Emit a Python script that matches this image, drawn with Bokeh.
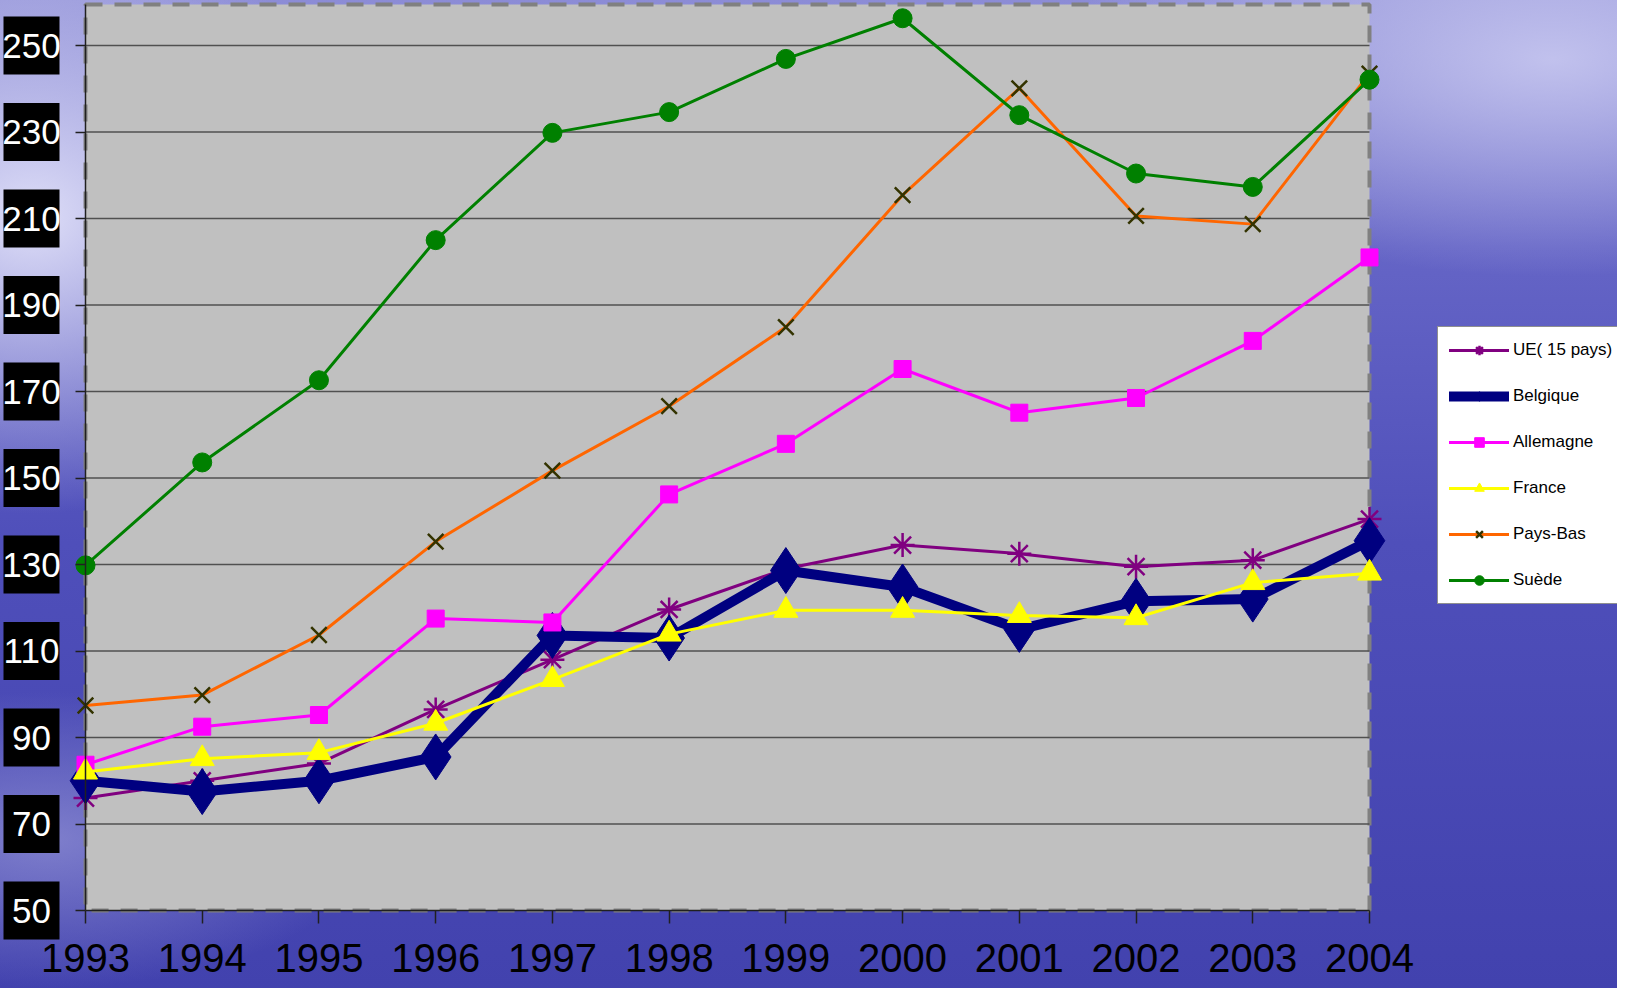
from bokeh.plotting import figure
from bokeh.models import Range1d, FixedTicker, Legend, LegendItem, LabelSet, ColumnDataSource
from bokeh.core.properties import value
from bokeh.embed import file_html
from bokeh.resources import INLINE

years = [1993, 1994, 1995, 1996, 1997, 1998, 1999, 2000, 2001, 2002, 2003, 2004]
ue = [76, 80, 84, 96.5, 108, 119.6, 129, 134.5, 132.5, 129.5, 131, 140.5]
belgique = [80, 77.5, 80, 85.5, 113.6, 113, 128.6, 124.8, 115, 121.5, 122, 135.5]
allemagne = [83.7, 92.5, 95.2, 117.5, 116.6, 146.2, 157.9, 175.2, 165.1, 168.5, 181.7, 201]
france = [82, 85.1, 86.5, 93.3, 103.4, 113.9, 119.4, 119.4, 118.2, 117.7, 125.8, 128]
pays_bas = [97.4, 99.8, 113.7, 135.3, 151.7, 166.6, 184.9, 215.4, 240.1, 210.6, 208.7, 243.5]
suede = [129.8, 153.6, 172.6, 205, 229.8, 234.6, 246.9, 256.3, 233.9, 220.4, 217.3, 242.1]
y_ticks = [50, 70, 90, 110, 130, 150, 170, 190, 210, 230, 250]
y_tick_labels = [str(t) for t in y_ticks]
y_top = 259.5

FONT = "'Liberation Sans Narrow', 'Arial Narrow', 'Liberation Sans', Arial, sans-serif"

# layout (pixels): plot area 1284 wide, 865 px per 200 units; extra room for labels and legend
PX_PER_YEAR = 1284 / 11
PX_PER_UNIT = 865 / 200
LEFT_PAD, RIGHT_PAD = 85, 248
TOP_PAD, BOTTOM_PAD = 910, 78   # pixels above / below the value 50
FRAME_W, FRAME_H = 1617, 988
LABEL_BOX_OFFSET = 54           # px from the y axis to the centre of the tick-label boxes

p = figure(output_backend="svg", toolbar_location=None,
           frame_width=FRAME_W, frame_height=FRAME_H,
           min_border_left=0, min_border_right=0, min_border_top=0, min_border_bottom=0,
           x_range=Range1d(years[0] - LEFT_PAD / PX_PER_YEAR, years[-1] + RIGHT_PAD / PX_PER_YEAR),
           y_range=Range1d(y_ticks[0] - BOTTOM_PAD / PX_PER_UNIT, y_ticks[0] + TOP_PAD / PX_PER_UNIT))

p.border_fill_color = None
p.background_fill_color = None
p.outline_line_color = None
p.styles = {"background": (
    "radial-gradient(ellipse 22% 30% at 2% 22%, rgba(228,228,250,0.95), rgba(228,228,250,0) 100%),"
    "radial-gradient(ellipse 30% 22% at 96% 6%, rgba(200,200,240,0.9), rgba(200,200,240,0) 100%),"
    "radial-gradient(ellipse 20% 15% at 3% 85%, rgba(150,150,215,0.7), rgba(150,150,215,0) 100%),"
    "linear-gradient(180deg, #8c8cd6 0%, #6565c6 25%, #4f4fba 55%, #4242ae 100%)")}

# plot area background with dashed outline
p.quad(left=years[0], right=years[-1], bottom=y_ticks[0], top=y_top,
       fill_color="#c0c0c0", line_color="#808080", line_width=4, line_dash="17 12", level="image")

# horizontal grid lines limited to the plot area
p.xgrid.visible = False
p.ygrid.visible = False
p.segment(x0=[years[0]] * (len(y_ticks) - 1), x1=[years[-1]] * (len(y_ticks) - 1),
          y0=y_ticks[1:], y1=y_ticks[1:], line_color="#505050", line_width=1.5, level="underlay")

p.xaxis.ticker = FixedTicker(ticks=years)
p.xaxis.bounds = (years[0], years[-1])
p.xaxis.fixed_location = y_ticks[0]
p.yaxis.ticker = FixedTicker(ticks=y_ticks)
p.yaxis.bounds = (y_ticks[0], y_top)
p.yaxis.fixed_location = years[0]
for ax in (p.xaxis[0], p.yaxis[0]):
    ax.axis_line_color = "#202020"
    ax.axis_line_width = 1.5
    ax.major_tick_line_color = "#202020"
    ax.major_tick_line_width = 1.5
    ax.minor_tick_line_color = None
    ax.major_tick_in = 0
    ax.major_label_text_font = FONT

p.xaxis.major_tick_out = 13
p.xaxis.major_label_standoff = 20
p.xaxis.major_label_text_font_size = "40px"
p.xaxis.major_label_text_color = "black"

p.yaxis.major_tick_out = 10
p.yaxis.major_label_text_color = None
p.yaxis.major_label_text_font_size = "1px"

# y tick labels: white text on black boxes
box_x = [years[0] - LABEL_BOX_OFFSET / PX_PER_YEAR] * len(y_ticks)
p.rect(x=box_x, y=y_ticks, width=56, height=58, width_units="screen", height_units="screen",
       fill_color="black", line_color=None)
ylab_src = ColumnDataSource(data=dict(x=box_x, y=y_ticks, text=y_tick_labels))
p.add_layout(LabelSet(x="x", y="y", text="text", source=ylab_src,
                      text_align="center", text_baseline="middle",
                      text_font=value(FONT), text_font_size="35px", text_color="white"))

series = [
    ("UE( 15 pays)", ue, "#800080", 3, "asterisk", 24, "#800080", "#800080"),
    ("Belgique", belgique, "#000080", 10, "diamond", 46, "#000080", "#000080"),
    ("Allemagne", allemagne, "#ff00ff", 3, "square", 17, "#ff00ff", "#ff00ff"),
    ("France", france, "#ffff00", 3, "triangle", 24, "#ffff00", "#ffff00"),
    ("Pays-Bas", pays_bas, "#ff6600", 3, "x", 22, "#333300", None),
    ("Suède", suede, "#008000", 3, "circle", 19, "#008000", "#008000"),
]

items = []
for name, vals, col, lw, marker, size, mline, mfill in series:
    lr = p.line(years, vals, line_color=col, line_width=lw, line_join="round", line_cap="round")
    sr = p.scatter(years, vals, marker=marker, size=size, line_color=mline,
                   fill_color=mfill, line_width=2.5 if marker in ("x", "asterisk") else 1)
    items.append(LegendItem(label=name, renderers=[lr, sr]))

legend = Legend(items=items, location=(1437, 306 + BOTTOM_PAD))
legend.background_fill_color = "white"
legend.background_fill_alpha = 1
legend.border_line_color = "#202020"
legend.border_line_width = 1
legend.label_text_font = FONT
legend.label_text_font_size = "17px"
legend.label_text_color = "black"
legend.glyph_width = 60
legend.glyph_height = 24
legend.label_height = 24
legend.spacing = 22
legend.padding = 11
legend.margin = 0
legend.label_standoff = 4
p.add_layout(legend, "center")

open("out.html", "w").write(file_html(p, INLINE))
